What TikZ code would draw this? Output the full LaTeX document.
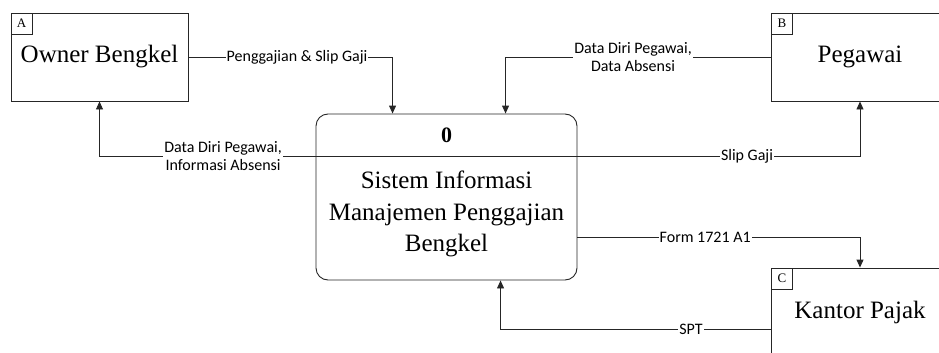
\documentclass[tikz,border=0pt]{standalone}
\usepackage{fontspec}
\setmainfont{Liberation Serif}
\newfontfamily\flowfont{Carlito}
\usetikzlibrary{positioning,arrows.meta}

\begin{document}
\begin{tikzpicture}[x=1pt, y=-1pt,
  Ent/.style={draw=black!85, line width=0.9pt, minimum width=177pt,
    minimum height=88pt, inner sep=0pt, font=\fontsize{25}{30}\selectfont},
  Tag/.style={draw=black!85, line width=0.9pt, minimum size=21pt, inner
    sep=0pt, font=\fontsize{13}{15}\selectfont},
  Fl/.style={draw=black!85, line width=0.9pt, -{Triangle[length=8pt,width=7pt]}},
  Lbl/.style={fill=white, inner sep=1pt, align=center,
    font=\flowfont\fontsize{16}{18}\selectfont}]
\useasboundingbox (0,0) rectangle (939,353);
\clip (0,0) rectangle (939,353);

\node[Ent] at (99.5,57) (owner) {Owner Bengkel};
\node[Ent] at (860,57) (pegawai) {Pegawai};
\node[Ent] at (860,312) (kantor) {Kantor Pajak};
\node[Tag, below right=0pt and 0pt of owner.north west] (tagA) {A};
\node[Tag, below right=0pt and 0pt of pegawai.north west] (tagB) {B};
\node[Tag, below right=0pt and 0pt of kantor.north west] (tagC) {C};

\node[draw=black!85, line width=0.9pt, rounded corners=12pt, minimum
  width=261pt, minimum height=166pt] at (446.5,197) (proc) {};
\coordinate (divL) at ([yshift=-43pt]proc.north west);
\coordinate (divR) at ([yshift=-43pt]proc.north east);
\draw[black!85, line width=0.9pt] (divL) -- (divR);
\node[font=\fontsize{22}{26}\selectfont\bfseries] at (446.5,135) (num) {0};
\node[align=center, font=\fontsize{25}{31.5}\selectfont] at (446.5,214)
  (name) {Sistem Informasi\\Manajemen Penggajian\\Bengkel};

\draw[Fl] (owner.east) -| node[Lbl, pos=0.266] {Penggajian \& Slip Gaji}
  ([xshift=77pt]proc.north west);
\draw[Fl] (divL) -| node[Lbl, pos=0.214] {Data Diri Pegawai,\\Informasi Absensi}
  (owner.south);
\draw[Fl] (pegawai.west) -| node[Lbl, pos=0.26] {Data Diri Pegawai,\\Data Absensi}
  ([xshift=190pt]proc.north west);
\draw[Fl] (divR) -| node[Lbl, pos=0.3] {Slip Gaji} (pegawai.south);
\draw[Fl] ([yshift=-124pt]proc.north east) -| node[Lbl, pos=0.226] {Form 1721 A1}
  (kantor.north);
\draw[Fl] ([yshift=-62pt]kantor.north west) -| node[Lbl, pos=0.148] {SPT}
  ([xshift=185pt]proc.south west);

\end{tikzpicture}
\end{document}
